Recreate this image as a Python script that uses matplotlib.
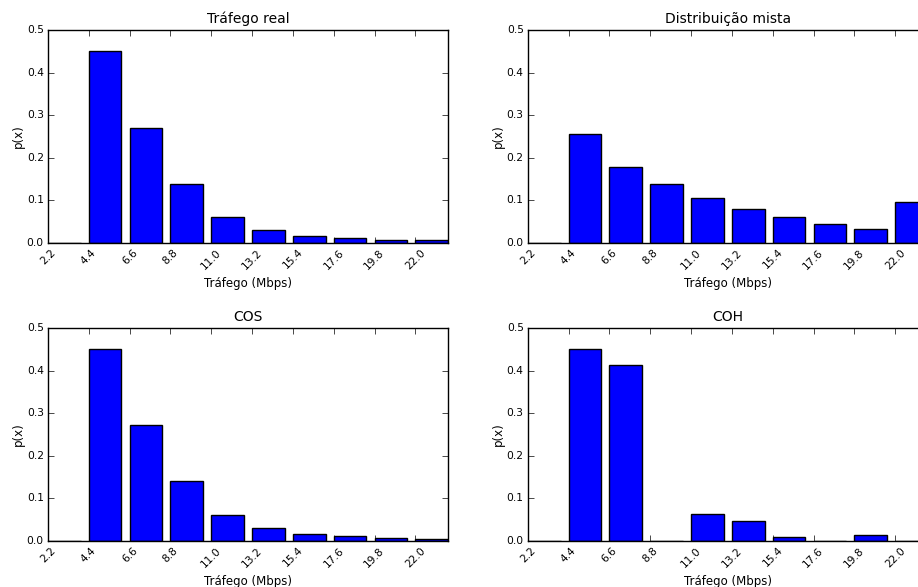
import matplotlib
matplotlib.use('Agg')
import matplotlib.pyplot as plt
import numpy as np

# traffic bins (Mbps)
BINS = [2.2, 4.4, 6.6, 8.8, 11.0, 13.2, 15.4, 17.6, 19.8, 22.0]
TICK_LABELS = ['2.2', '4.4', '6.6', '8.8', '11.0', '13.2', '15.4', '17.6', '19.8', '22.0']

# p(x) per bin for each model
P_REAL = [0.0005, 0.451, 0.271, 0.139, 0.062, 0.030, 0.016, 0.011, 0.006, 0.006]
P_MISTA = [0.0005, 0.255, 0.178, 0.138, 0.105, 0.080, 0.060, 0.045, 0.033, 0.097]
P_COS = [0.0005, 0.451, 0.272, 0.141, 0.062, 0.031, 0.016, 0.011, 0.008, 0.005]
P_COH = [0.0005, 0.451, 0.413, 0.001, 0.064, 0.047, 0.010, 0.001, 0.013, 0.001]

TITLES = ['Tráfego real', 'Distribuição mista', 'COS', 'COH']

plt.style.use('classic')
plt.rcParams['figure.facecolor'] = 'white'
plt.rcParams['savefig.facecolor'] = 'white'
plt.rcParams['font.family'] = 'DejaVu Sans'

fig = plt.figure(figsize=(9.18, 5.87), dpi=100)

# axes boxes in figure fractions; right column runs past the figure edge
positions = [
    [0.0523, 0.586, 0.4357, 0.363],
    [0.575, 0.586, 0.4357, 0.363],
    [0.0523, 0.0784, 0.4357, 0.363],
    [0.575, 0.0784, 0.4357, 0.363],
]

width = 0.8 * 2.2

for pos, title, data in zip(positions, TITLES, [P_REAL, P_MISTA, P_COS, P_COH]):
    ax = fig.add_axes(pos)
    ax.bar(BINS, data, width, align='edge', color='blue', edgecolor='black')
    ax.set_xlim(BINS[0], BINS[-1] + width)
    ax.set_ylim(0, 0.5)
    ax.set_xticks(BINS)
    ax.set_xticklabels(TICK_LABELS, rotation=45)
    ax.tick_params(labelsize=7.7, pad=3)
    ax.set_title(title, fontsize=10)
    ax.set_xlabel('Tráfego (Mbps)', fontsize=8.5, labelpad=4)
    ax.set_ylabel('p(x)', fontsize=8.5, labelpad=1)

fig.savefig('out.png', dpi=100)
